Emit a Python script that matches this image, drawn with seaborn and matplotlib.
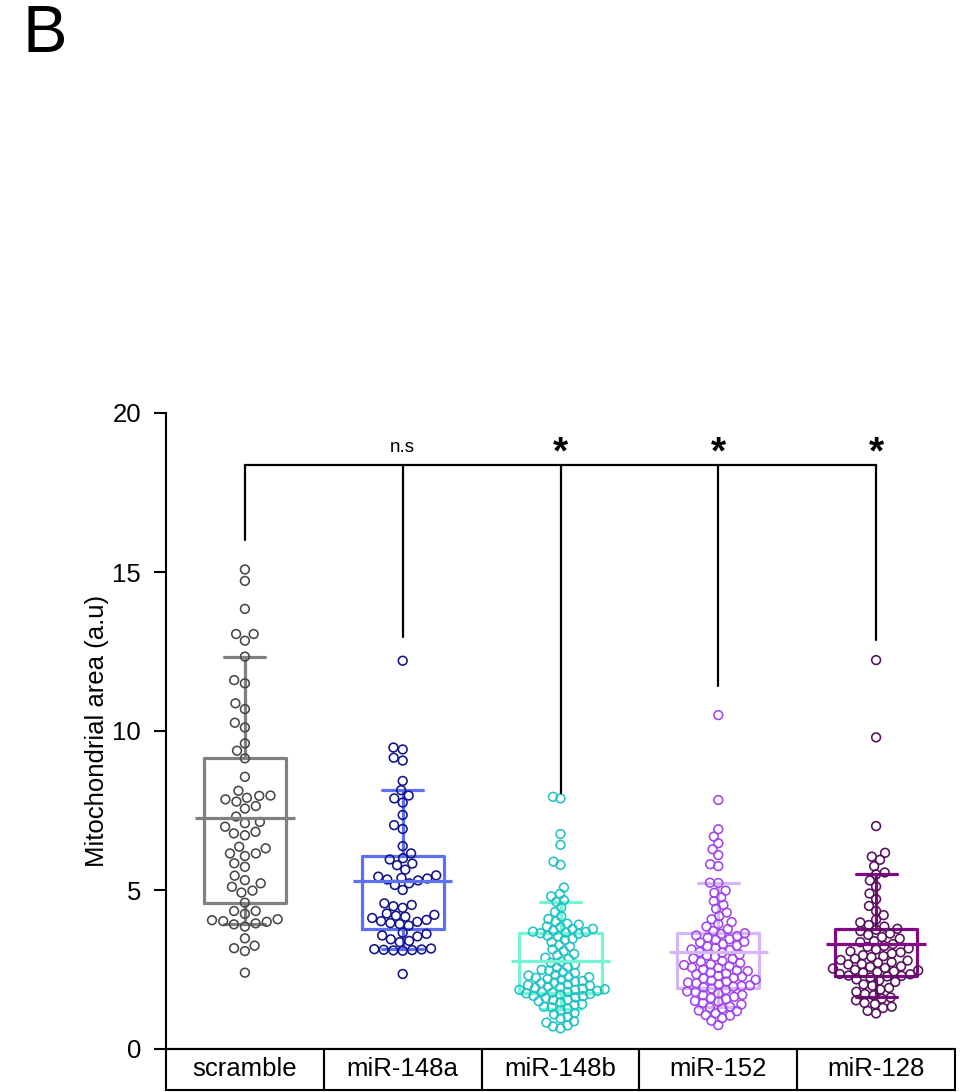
import numpy as np
import pandas as pd
import matplotlib
matplotlib.use("Agg")
import matplotlib.pyplot as plt
from matplotlib.patches import Rectangle
import seaborn as sns

# ---- data -------------------------------------------------------------
groups = ["scramble", "miR-148a", "miR-148b", "miR-152", "miR-128"]

scramble = [15.08, 14.72, 13.84, 13.05, 13.05, 12.84, 12.34, 11.60, 11.50, 10.87,
            10.69, 10.26, 10.11, 9.61, 9.38, 9.14, 8.56, 8.12, 7.97, 7.90,
            7.96, 7.85, 7.78, 7.64, 7.56, 7.31, 7.10, 6.99, 7.14, 6.78, 6.83, 6.72,
            6.31, 6.36, 6.15, 6.15, 6.07, 5.84, 5.73, 5.45, 5.21, 5.31, 5.10, 4.98,
            4.92, 4.60, 4.34, 4.34, 4.25, 4.08, 4.05, 4.02, 4.00, 3.95, 3.92, 3.85,
            3.48, 3.25, 3.17, 3.08, 2.40]

mir_148a = [12.21, 9.48, 9.42, 9.16, 9.07, 8.43, 8.14, 7.97, 7.88, 7.75, 7.36, 7.04,
            6.92, 6.38, 6.15, 6.00, 5.96, 5.83, 5.78, 5.64, 5.46, 5.42, 5.38, 5.36,
            5.33, 5.30, 5.21, 5.16, 5.00, 4.58, 4.53, 4.49, 4.44, 4.26, 4.22, 4.16,
            4.19, 4.12, 4.06, 4.02, 3.96, 4.00, 3.93, 3.88, 3.66, 3.62, 3.57, 3.54,
            3.45, 3.40, 3.36, 3.16, 3.13, 3.11, 3.12, 3.10, 3.14, 3.09, 2.36]

mir_148b = [7.93, 7.88, 6.76, 6.42, 5.89, 5.79, 5.08, 4.88, 4.80, 4.68, 4.63,
            4.45, 4.31, 4.17, 4.09, 4.01, 3.94, 3.91, 3.85, 3.83, 3.78, 3.77, 3.72,
            3.69, 3.68, 3.66, 3.64, 3.62, 3.56, 3.54, 3.47, 3.43, 3.36, 3.27, 3.22,
            3.13, 3.08, 2.99, 2.95, 2.87, 2.83, 2.75, 2.71, 2.66, 2.59, 2.56, 2.49,
            2.47, 2.41, 2.39, 2.33, 2.31, 2.26, 2.26, 2.24, 2.20, 2.18, 2.14, 2.12,
            2.09, 2.07, 2.03, 2.01, 1.99, 1.96, 1.95, 1.92, 1.90, 1.88, 1.86, 1.86,
            1.83, 1.80, 1.79, 1.77, 1.75, 1.73, 1.71, 1.67, 1.66, 1.62, 1.60, 1.55,
            1.54, 1.50, 1.47, 1.41, 1.39, 1.33, 1.31, 1.26, 1.21, 1.13, 1.09, 1.01,
            0.96, 0.87, 0.83, 0.74, 0.71, 0.65]

mir_152 = [10.50, 7.83, 6.91, 6.68, 6.47, 6.28, 6.10, 5.81, 5.75, 5.23, 5.22, 4.98,
           4.91, 4.77, 4.65, 4.53, 4.41, 4.29, 4.18, 4.08, 3.99, 3.93, 3.85, 3.77,
           3.71, 3.64, 3.62, 3.57, 3.55, 3.50, 3.45, 3.43, 3.37, 3.35, 3.30, 3.25,
           3.23, 3.18, 3.13, 3.11, 3.05, 3.03, 2.97, 2.94, 2.90, 2.85, 2.83, 2.77,
           2.74, 2.70, 2.66, 2.64, 2.60, 2.56, 2.55, 2.50, 2.47, 2.45, 2.40, 2.37,
           2.35, 2.30, 2.27, 2.24, 2.22, 2.18, 2.15, 2.12, 2.09, 2.07, 2.03, 2.00,
           1.98, 1.96, 1.94, 1.90, 1.86, 1.81, 1.79, 1.75, 1.70, 1.69, 1.64, 1.60,
           1.57, 1.51, 1.49, 1.44, 1.40, 1.33, 1.30, 1.27, 1.21, 1.19, 1.12, 1.07,
           1.05, 0.97, 0.89, 0.75]

mir_128 = [12.23, 9.80, 7.01, 6.17, 6.05, 5.95, 5.75, 5.55, 5.49, 5.30, 5.11, 4.89,
           4.71, 4.50, 4.34, 4.21, 4.07, 3.98, 3.90, 3.85, 3.78, 3.75, 3.71, 3.63,
           3.59, 3.52, 3.47, 3.39, 3.36, 3.30, 3.24, 3.21, 3.16, 3.13, 3.07, 3.04,
           3.00, 2.95, 2.92, 2.89, 2.84, 2.80, 2.78, 2.73, 2.71, 2.67, 2.66, 2.60,
           2.58, 2.55, 2.53, 2.49, 2.47, 2.44, 2.42, 2.40, 2.36, 2.35, 2.31, 2.30,
           2.28, 2.25, 2.19, 2.16, 2.11, 2.03, 1.99, 1.92, 1.87, 1.80, 1.73, 1.69,
           1.62, 1.58, 1.53, 1.45, 1.41, 1.33, 1.29, 1.20, 1.12]

# significance versus scramble
sig_labels = ["", "n.s", "*", "*", "*"]
bracket_level = 18.35
bracket_ends = [16.0, 12.95, 8.05, 11.4, 12.85]

# ---- styling ----------------------------------------------------------
box_colors = ["#808080", "#5e70f2", "#76f4d4", "#d5b6f8", "#810a82"]
point_colors = ["#474747", "#12128a", "#22c2c4", "#a044ee", "#56105e"]
# marker diameters (pt) used only to lay out each swarm; denser groups are
# packed tighter so their circles overlap
swarm_layout_size = [6.6, 5.4, 4.2, 4.6, 5.0]
marker_size = 6.3

values = [scramble, mir_148a, mir_148b, mir_152, mir_128]
df = pd.DataFrame({
    "group": np.repeat(groups, [len(v) for v in values]),
    "area": np.concatenate(values),
})

sns.set_style("ticks")
plt.rcParams["font.family"] = ["Liberation Sans", "DejaVu Sans"]
plt.rcParams["text.color"] = "black"
plt.rcParams["axes.labelcolor"] = "black"
plt.rcParams["xtick.color"] = "black"
plt.rcParams["ytick.color"] = "black"

fig = plt.figure(figsize=(9.64, 10.92), dpi=100)
ax = fig.add_axes([166 / 964, 1 - 1049 / 1092, (955 - 166) / 964, (1049 - 413) / 1092])

# individual measurements
sns.swarmplot(data=df, x="group", y="area", hue="group", order=groups,
              hue_order=groups, palette=point_colors, size=5, linewidth=1.1,
              legend=False, ax=ax, warn_thresh=1.0)
swarm_collections = list(ax.collections)
for coll, s in zip(swarm_collections, swarm_layout_size):
    coll.set_sizes([s ** 2])

ax.set_xlim(-0.5, 4.5)
ax.set_ylim(0, 20)
fig.canvas.draw()
for coll in swarm_collections:
    fc = coll.get_facecolors()
    coll.set_edgecolors(fc)
    coll.set_facecolors("none")
    coll.__dict__.pop("draw", None)
    coll.set_sizes([marker_size ** 2])
    coll.set_linewidths(1.15)

# box: 25-75 %, whiskers: 10-90 %, centre line: mean
sns.boxplot(data=df, x="group", y="area", hue="group", order=groups,
            hue_order=groups, palette=box_colors, fill=False, width=0.52,
            whis=(10, 90), showfliers=False, linewidth=2.3,
            medianprops={"visible": False}, legend=False, ax=ax)

means = [np.mean(v) for v in values]
for i, (m, c) in enumerate(zip(means, box_colors)):
    ax.plot([i - 0.315, i + 0.315], [m, m], color=c, lw=2.3,
            solid_capstyle="butt", zorder=4)

# comparison bracket
ax.plot([0, len(groups) - 1], [bracket_level, bracket_level], color="black",
        lw=1.6, solid_capstyle="projecting", zorder=5)
for i, end in enumerate(bracket_ends):
    ax.plot([i, i], [end, bracket_level], color="black", lw=1.6, zorder=5)
    if sig_labels[i] == "*":
        ax.text(i, bracket_level - 0.2, "*", ha="center", va="bottom",
                fontsize=28, fontweight="bold")
    elif sig_labels[i]:
        ax.text(i, bracket_level + 0.42, sig_labels[i], ha="center",
                va="baseline", fontsize=13.5)

ax.set_xlim(-0.5, 4.5)
ax.set_ylim(0, 20)
ax.set_yticks([0, 5, 10, 15, 20])
ax.tick_params(axis="y", length=9, width=1.5, labelsize=18.5, pad=9)
ax.tick_params(axis="x", length=0, labelbottom=False)
ax.set_xlabel("")
ax.set_ylabel("Mitochondrial area (a.u)", fontsize=18.5, labelpad=2)
for side in ("top", "right"):
    ax.spines[side].set_visible(False)
for side in ("left", "bottom"):
    ax.spines[side].set_linewidth(1.5)
    ax.spines[side].set_color("black")

# category table under the axis
trans = ax.get_xaxis_transform()
cell_h = 41 / 636
for i, g in enumerate(groups):
    ax.add_patch(Rectangle((i - 0.5, -cell_h), 1, cell_h, transform=trans,
                           fill=False, ec="black", lw=1.5, clip_on=False))
    ax.text(i, -cell_h / 2, g, transform=trans, ha="center", va="center",
            fontsize=18.5)

fig.text(23 / 964, 1 - 4 / 1092, "B", fontsize=48, ha="left", va="top")

fig.savefig("out.png", dpi=100)
